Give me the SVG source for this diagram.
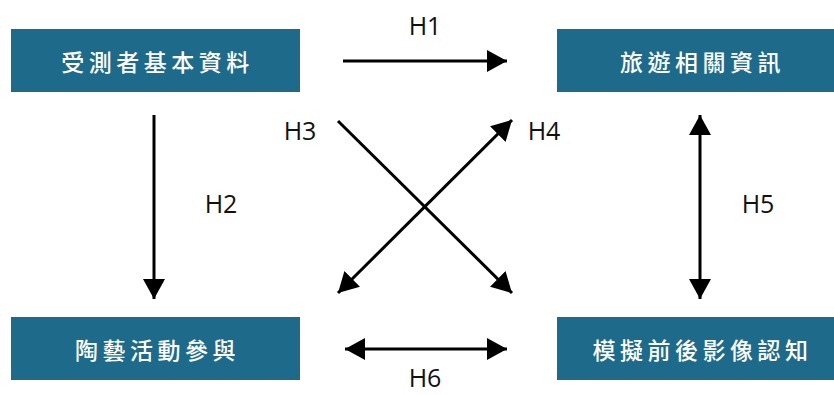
<svg xmlns="http://www.w3.org/2000/svg" width="834" height="395" viewBox="0 0 834 395">
  <style>
    .box { fill: #1e6a8b; }
    .btxt { font-family: "Noto Sans CJK TC", "Noto Sans CJK SC", sans-serif; font-size: 23px; font-weight: 500; letter-spacing: 4.5px; fill: #ffffff; text-anchor: middle; dominant-baseline: central; }
    .lbl { font-family: "Open Sans", "Noto Sans", sans-serif; font-size: 25px; fill: #111111; text-anchor: middle; }
    .edge { stroke: #000000; stroke-width: 3; fill: none; }
  </style>
  <defs>
    <marker id="ah" markerUnits="userSpaceOnUse" markerWidth="20" markerHeight="22" refX="20" refY="11" orient="auto-start-reverse" viewBox="0 0 20 22">
      <path d="M0,0 L20,11 L0,22 z" fill="#000000"/>
    </marker>
  </defs>
  <rect width="834" height="395" fill="#ffffff"/>

  <g id="node-basic">
    <rect class="box" x="11" y="29" width="289" height="63"/>
    <text class="btxt" x="157.5" y="60.5">受測者基本資料</text>
  </g>
  <g id="node-travel">
    <rect class="box" x="557" y="29" width="290" height="63"/>
    <text class="btxt" x="702.5" y="60.5">旅遊相關資訊</text>
  </g>
  <g id="node-pottery">
    <rect class="box" x="11" y="317" width="289" height="63"/>
    <text class="btxt" x="157.5" y="348.5">陶藝活動參與</text>
  </g>
  <g id="node-image">
    <rect class="box" x="557" y="317" width="290" height="63"/>
    <text class="btxt" x="702.5" y="348.5">模擬前後影像認知</text>
  </g>

  <g id="connectors">
    <line class="edge" x1="343" y1="61" x2="507" y2="61" marker-end="url(#ah)"/>
    <line class="edge" x1="154" y1="115" x2="154" y2="299" marker-end="url(#ah)"/>
    <line class="edge" x1="338" y1="121" x2="512" y2="293" marker-end="url(#ah)"/>
    <line class="edge" x1="338" y1="293" x2="512" y2="120" marker-start="url(#ah)" marker-end="url(#ah)"/>
    <line class="edge" x1="700" y1="115" x2="700" y2="299" marker-start="url(#ah)" marker-end="url(#ah)"/>
    <line class="edge" x1="345" y1="349" x2="507" y2="349" marker-start="url(#ah)" marker-end="url(#ah)"/>
  </g>

  <g id="labels">
    <text class="lbl" x="425" y="35">H1</text>
    <text class="lbl" x="221" y="213">H2</text>
    <text class="lbl" x="300" y="140">H3</text>
    <text class="lbl" x="544" y="140">H4</text>
    <text class="lbl" x="758" y="213">H5</text>
    <text class="lbl" x="425" y="387">H6</text>
  </g>
</svg>
